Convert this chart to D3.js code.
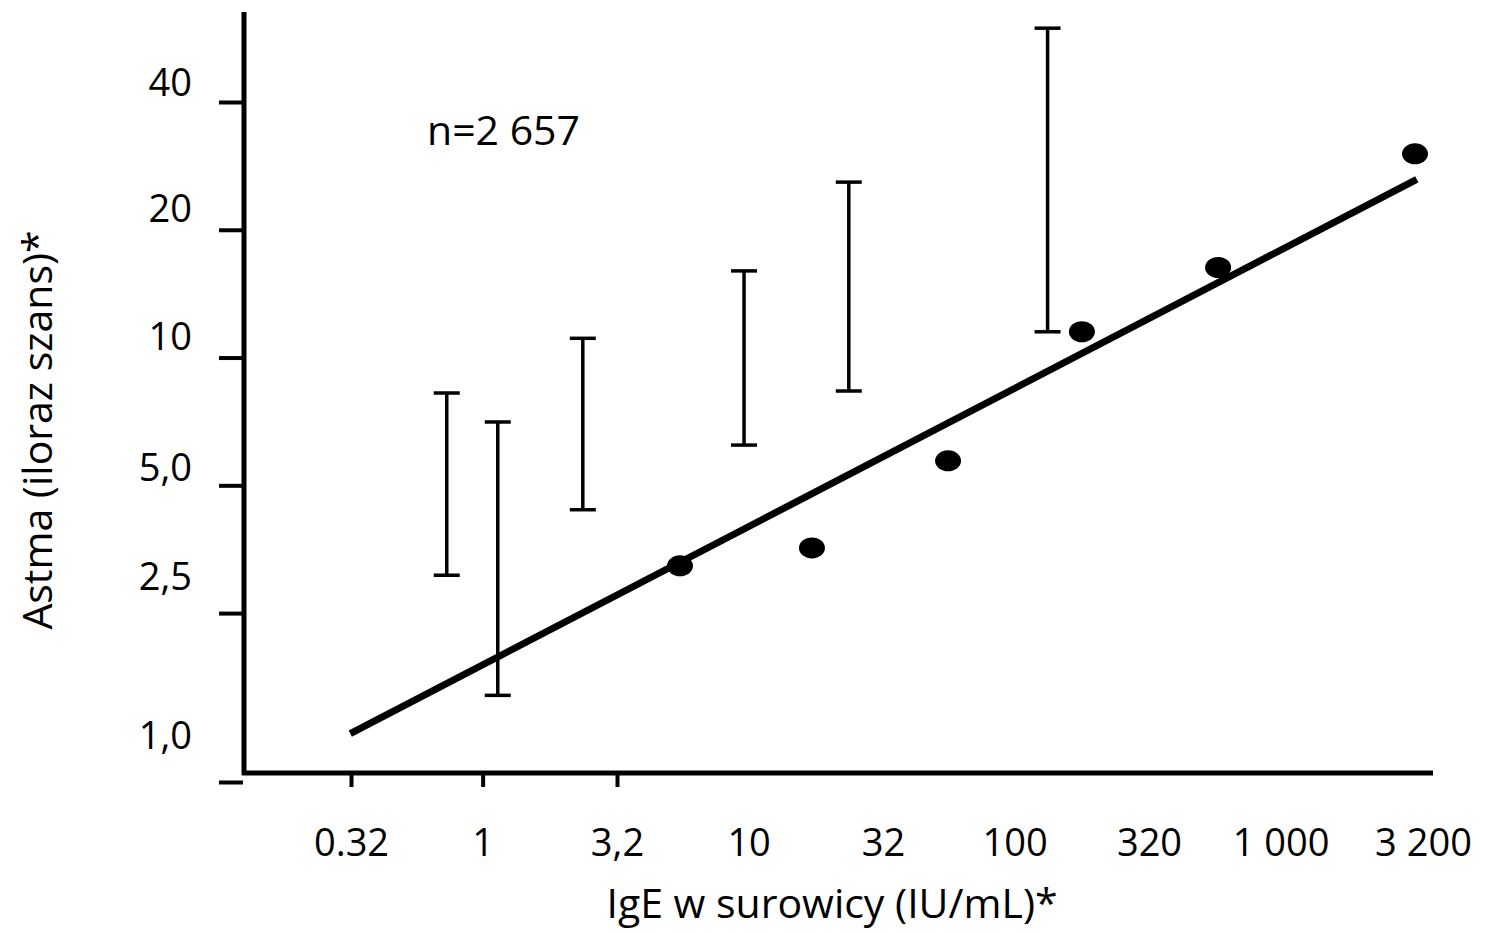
<!DOCTYPE html>
<html lang="pl">
<head>
<meta charset="UTF-8">
<title>Astma a IgE</title>
<script src="https://d3js.org/d3.v7.min.js"></script>
<style>
    body { margin: 0; background: #fff; }
    svg text { font-family: "Open Sans", "DejaVu Sans", sans-serif; fill: #000; }
</style>
</head>
<body>
<svg id="chart"></svg>
<script>
// wartosci
const xTicks = [0.32, 1, 3.2, 10, 32, 100, 320, 1000, 3200];
const xTickLabels = ["0.32", "1", "3,2", "10", "32", "100", "320", "1 000", "3 200"];
const yTicks = [40, 20, 10, 5, 2.5, 1];
const yTickLabels = ["40", "20", "10", "5,0", "2,5", "1,0"];

// przedzialy (slupki bledu)
const barX = [0.733, 1.14, 2.38, 9.61, 23.8, 133];
const barLow = [3.07, 1.60, 4.38, 6.22, 8.34, 11.5];
const barHigh = [8.25, 7.05, 11.1, 16.0, 25.9, 59.7];

// punkty
const pointX = [5.52, 17.3, 56.2, 179, 582, 3200];
const pointY = [3.23, 3.56, 5.71, 11.5, 16.3, 30.2];

// linia trendu
const trendX = [0.318, 3250];
const trendY = [1.3, 26.3];

const width = 1488, height = 933;
const axisX = 244, axisY = 773;

const svg = d3.select("#chart").attr("width", width).attr("height", height);

const x = d3.scaleLog().domain([0.32, 3200]).range([351, 1415]);
const y = d3.scaleLog().domain([1, 40]).range([782, 102]);

// os Y
const yAxis = svg.append("g")
    .attr("transform", `translate(${axisX},0)`)
    .call(d3.axisLeft(y).tickValues(yTicks).tickSize(25).tickPadding(27)
        .tickFormat((d, i) => yTickLabels[i]));
yAxis.select(".domain").remove();
yAxis.selectAll(".tick line").attr("stroke", "#000").attr("stroke-width", 4).attr("x2", -25).attr("x1", -1);
const yLabelLift = [20, 22, 22, 19, 37, 47];
yAxis.selectAll(".tick text")
    .style("font-size", "38px")
    .attr("x", -52)
    .attr("dy", "0.36em")
    .attr("y", (d, i) => -yLabelLift[i]);

svg.append("line")
    .attr("x1", axisX).attr("x2", axisX)
    .attr("y1", 12).attr("y2", axisY + 2)
    .attr("stroke", "#000").attr("stroke-width", 5);

// os X
const xAxis = svg.append("g")
    .attr("transform", `translate(0,${axisY})`)
    .call(d3.axisBottom(x).tickValues(xTicks).tickSize(14).tickPadding(0)
        .tickFormat((d, i) => xTickLabels[i]));
xAxis.select(".domain").remove();
xAxis.selectAll(".tick line")
    .attr("stroke", "#000").attr("stroke-width", 4)
    .attr("display", (d, i) => i < 3 ? null : "none");
xAxis.selectAll(".tick text")
    .style("font-size", "38px")
    .attr("y", 83)
    .attr("dy", 0)
    .attr("x", (d, i) => i === xTicks.length - 1 ? 8 : 0);

svg.append("line")
    .attr("x1", axisX - 2).attr("x2", 1433)
    .attr("y1", axisY).attr("y2", axisY)
    .attr("stroke", "#000").attr("stroke-width", 5);

// linia trendu
svg.append("line")
    .attr("x1", x(trendX[0])).attr("y1", y(trendY[0]))
    .attr("x2", x(trendX[1])).attr("y2", y(trendY[1]))
    .attr("stroke", "#000").attr("stroke-width", 7);

// slupki bledu
const bars = svg.append("g").selectAll("g")
    .data(barX.map((v, i) => ({ x: v, lo: barLow[i], hi: barHigh[i] })))
    .enter().append("g")
    .attr("stroke", "#000").attr("stroke-width", 3.5);
bars.append("line")
    .attr("x1", d => x(d.x)).attr("x2", d => x(d.x))
    .attr("y1", d => y(d.hi)).attr("y2", d => y(d.lo));
bars.append("line")
    .attr("x1", d => x(d.x) - 13).attr("x2", d => x(d.x) + 13)
    .attr("y1", d => y(d.hi)).attr("y2", d => y(d.hi));
bars.append("line")
    .attr("x1", d => x(d.x) - 13).attr("x2", d => x(d.x) + 13)
    .attr("y1", d => y(d.lo)).attr("y2", d => y(d.lo));

// punkty
svg.append("g").selectAll("ellipse")
    .data(pointX.map((v, i) => [v, pointY[i]]))
    .enter().append("ellipse")
    .attr("cx", d => x(d[0])).attr("cy", d => y(d[1]))
    .attr("rx", 13).attr("ry", 10.5)
    .attr("fill", "#000");

// napisy
svg.append("text")
    .attr("x", 427).attr("y", 145)
    .style("font-size", "41px")
    .text("n=2 657");

svg.append("text")
    .attr("x", 832).attr("y", 918)
    .attr("text-anchor", "middle")
    .style("font-size", "41px")
    .text("IgE w surowicy (IU/mL)*");

svg.append("text")
    .attr("transform", "translate(52,430) rotate(-90)")
    .attr("text-anchor", "middle")
    .style("font-size", "41px")
    .text("Astma (iloraz szans)*");
</script>
</body>
</html>
